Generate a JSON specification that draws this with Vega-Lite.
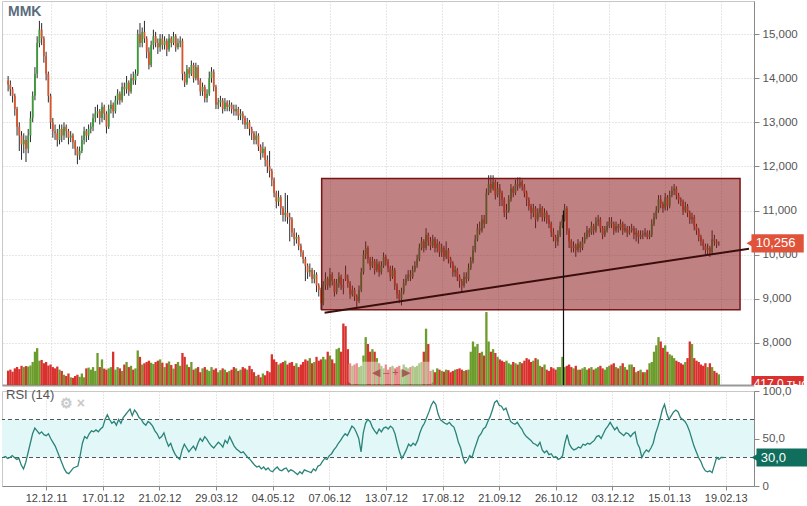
{
"$schema":"https://vega.github.io/schema/vega-lite/v6.json",
"background":"white",
"padding":0,
"spacing":6,
"bounds":"flush",
"config":{"view":{"stroke":"#c8c8c8"},"font":"Liberation Sans","axis":{"labelFont":"Liberation Sans"},"title":{"font":"Liberation Sans"}},
"datasets":{"k":[
{"i":1,"o":13950,"h":14050,"l":13700,"c":13850,"v":560,"r":30},
{"i":2,"o":13850,"h":13950,"l":13600,"c":13750,"v":600,"r":31},
{"i":3,"o":13750,"h":13800,"l":13450,"c":13600,"v":520,"r":29},
{"i":4,"o":13600,"h":13650,"l":13150,"c":13300,"v":650,"r":30},
{"i":5,"o":13300,"h":13350,"l":12700,"c":12900,"v":700,"r":32},
{"i":6,"o":12900,"h":13000,"l":12350,"c":12700,"v":620,"r":30},
{"i":7,"o":12700,"h":12800,"l":12150,"c":12500,"v":750,"r":28},
{"i":8,"o":12500,"h":12750,"l":12300,"c":12600,"v":700,"r":29},
{"i":9,"o":12600,"h":12700,"l":12100,"c":12400,"v":740,"r":22},
{"i":10,"o":12400,"h":12850,"l":12300,"c":12700,"v":720,"r":18},
{"i":11,"o":12700,"h":13250,"l":12550,"c":13100,"v":760,"r":25},
{"i":12,"o":13100,"h":13700,"l":13000,"c":13600,"v":900,"r":35},
{"i":13,"o":13600,"h":14250,"l":13500,"c":14100,"v":1300,"r":45},
{"i":14,"o":14100,"h":14950,"l":14000,"c":14800,"v":1440,"r":55},
{"i":15,"o":14800,"h":15300,"l":14700,"c":15100,"v":950,"r":61},
{"i":16,"o":15100,"h":15250,"l":14750,"c":14900,"v":980,"r":58},
{"i":17,"o":14900,"h":14950,"l":14350,"c":14500,"v":850,"r":55},
{"i":18,"o":14500,"h":14600,"l":13950,"c":14100,"v":900,"r":57},
{"i":19,"o":14100,"h":14150,"l":13450,"c":13600,"v":760,"r":54},
{"i":20,"o":13600,"h":13650,"l":12850,"c":13000,"v":800,"r":53},
{"i":21,"o":13000,"h":13100,"l":12650,"c":12800,"v":700,"r":55},
{"i":22,"o":12800,"h":12950,"l":12600,"c":12750,"v":650,"r":50},
{"i":23,"o":12750,"h":12850,"l":12450,"c":12600,"v":720,"r":46},
{"i":24,"o":12600,"h":12950,"l":12500,"c":12850,"v":600,"r":42},
{"i":25,"o":12850,"h":12950,"l":12550,"c":12700,"v":550,"r":36},
{"i":26,"o":12700,"h":13000,"l":12600,"c":12900,"v":400,"r":30},
{"i":27,"o":12900,"h":12950,"l":12650,"c":12800,"v":350,"r":24},
{"i":28,"o":12800,"h":12850,"l":12500,"c":12650,"v":450,"r":18},
{"i":29,"o":12650,"h":12800,"l":12550,"c":12700,"v":300,"r":14},
{"i":30,"o":12700,"h":12750,"l":12400,"c":12550,"v":280,"r":13},
{"i":31,"o":12550,"h":12600,"l":12250,"c":12400,"v":350,"r":16},
{"i":32,"o":12400,"h":12450,"l":12050,"c":12250,"v":400,"r":19},
{"i":33,"o":12250,"h":12450,"l":12150,"c":12350,"v":320,"r":20},
{"i":34,"o":12350,"h":12700,"l":12300,"c":12600,"v":450,"r":21},
{"i":35,"o":12600,"h":12900,"l":12500,"c":12800,"v":300,"r":32},
{"i":36,"o":12800,"h":12850,"l":12550,"c":12700,"v":650,"r":45},
{"i":37,"o":12700,"h":12950,"l":12600,"c":12850,"v":680,"r":52},
{"i":38,"o":12850,"h":13000,"l":12750,"c":12900,"v":600,"r":50},
{"i":39,"o":12900,"h":13200,"l":12800,"c":13100,"v":700,"r":55},
{"i":40,"o":13100,"h":13350,"l":13000,"c":13200,"v":550,"r":58},
{"i":41,"o":13200,"h":13400,"l":13100,"c":13250,"v":1250,"r":57},
{"i":42,"o":13250,"h":13300,"l":12950,"c":13100,"v":700,"r":59},
{"i":43,"o":13100,"h":13450,"l":13000,"c":13350,"v":1000,"r":57},
{"i":44,"o":13350,"h":13400,"l":13050,"c":13200,"v":640,"r":60},
{"i":45,"o":13200,"h":13250,"l":12750,"c":12900,"v":600,"r":62},
{"i":46,"o":12900,"h":13400,"l":12850,"c":13300,"v":650,"r":70},
{"i":47,"o":13300,"h":13500,"l":13200,"c":13400,"v":700,"r":75},
{"i":48,"o":13400,"h":13450,"l":13100,"c":13250,"v":1300,"r":70},
{"i":49,"o":13250,"h":13600,"l":13200,"c":13500,"v":600,"r":66},
{"i":50,"o":13500,"h":13750,"l":13400,"c":13650,"v":700,"r":68},
{"i":51,"o":13650,"h":13700,"l":13400,"c":13500,"v":650,"r":64},
{"i":52,"o":13500,"h":13900,"l":13450,"c":13800,"v":550,"r":70},
{"i":53,"o":13800,"h":13900,"l":13600,"c":13750,"v":800,"r":66},
{"i":54,"o":13750,"h":14050,"l":13650,"c":13900,"v":900,"r":72},
{"i":55,"o":13900,"h":13950,"l":13600,"c":13700,"v":700,"r":75},
{"i":56,"o":13700,"h":14100,"l":13650,"c":14000,"v":750,"r":78},
{"i":57,"o":14000,"h":14150,"l":13850,"c":13950,"v":600,"r":81},
{"i":58,"o":13950,"h":14200,"l":13850,"c":14100,"v":650,"r":74},
{"i":59,"o":14100,"h":15100,"l":14050,"c":15000,"v":1350,"r":80},
{"i":60,"o":15000,"h":15250,"l":14700,"c":14800,"v":1100,"r":77},
{"i":61,"o":14800,"h":15150,"l":14700,"c":15050,"v":800,"r":72},
{"i":62,"o":15050,"h":15300,"l":14800,"c":14900,"v":850,"r":70},
{"i":63,"o":14900,"h":14950,"l":14450,"c":14600,"v":900,"r":66},
{"i":64,"o":14600,"h":14700,"l":14200,"c":14300,"v":950,"r":64},
{"i":65,"o":14300,"h":14850,"l":14250,"c":14750,"v":870,"r":68},
{"i":66,"o":14750,"h":15100,"l":14650,"c":14950,"v":820,"r":66},
{"i":67,"o":14950,"h":15050,"l":14700,"c":14800,"v":900,"r":63},
{"i":68,"o":14800,"h":14900,"l":14550,"c":14700,"v":950,"r":58},
{"i":69,"o":14700,"h":15000,"l":14600,"c":14900,"v":1000,"r":55},
{"i":70,"o":14900,"h":15000,"l":14650,"c":14750,"v":870,"r":50},
{"i":71,"o":14750,"h":14950,"l":14650,"c":14850,"v":700,"r":52},
{"i":72,"o":14850,"h":14900,"l":14500,"c":14650,"v":850,"r":56},
{"i":73,"o":14650,"h":15000,"l":14600,"c":14900,"v":920,"r":48},
{"i":74,"o":14900,"h":14950,"l":14700,"c":14800,"v":780,"r":42},
{"i":75,"o":14800,"h":15050,"l":14750,"c":14950,"v":640,"r":45},
{"i":76,"o":14950,"h":15000,"l":14600,"c":14700,"v":820,"r":38},
{"i":77,"o":14700,"h":14900,"l":14650,"c":14800,"v":900,"r":33},
{"i":78,"o":14800,"h":14950,"l":14700,"c":14850,"v":750,"r":30},
{"i":79,"o":14850,"h":14900,"l":13950,"c":14100,"v":1250,"r":28},
{"i":80,"o":14100,"h":14150,"l":13800,"c":13900,"v":1100,"r":38},
{"i":81,"o":13900,"h":14300,"l":13850,"c":14200,"v":800,"r":44},
{"i":82,"o":14200,"h":14250,"l":14000,"c":14100,"v":700,"r":40},
{"i":83,"o":14100,"h":14400,"l":14050,"c":14300,"v":900,"r":36},
{"i":84,"o":14300,"h":14350,"l":13900,"c":14000,"v":600,"r":39},
{"i":85,"o":14000,"h":14350,"l":13950,"c":14250,"v":650,"r":42},
{"i":86,"o":14250,"h":14300,"l":13850,"c":13950,"v":700,"r":38},
{"i":87,"o":13950,"h":14000,"l":13600,"c":13700,"v":500,"r":45},
{"i":88,"o":13700,"h":13900,"l":13600,"c":13800,"v":650,"r":50},
{"i":89,"o":13800,"h":13850,"l":13450,"c":13550,"v":700,"r":47},
{"i":90,"o":13550,"h":13750,"l":13450,"c":13650,"v":600,"r":52},
{"i":91,"o":13650,"h":14150,"l":13600,"c":14000,"v":550,"r":49},
{"i":92,"o":14000,"h":14250,"l":13900,"c":14150,"v":700,"r":45},
{"i":93,"o":14150,"h":14200,"l":13700,"c":13800,"v":600,"r":42},
{"i":94,"o":13800,"h":13850,"l":13300,"c":13400,"v":650,"r":40},
{"i":95,"o":13400,"h":13550,"l":13300,"c":13450,"v":500,"r":43},
{"i":96,"o":13450,"h":13600,"l":13350,"c":13500,"v":580,"r":46},
{"i":97,"o":13500,"h":13550,"l":13200,"c":13300,"v":650,"r":44},
{"i":98,"o":13300,"h":13550,"l":13250,"c":13450,"v":600,"r":41},
{"i":99,"o":13450,"h":13500,"l":13250,"c":13350,"v":500,"r":48},
{"i":100,"o":13350,"h":13500,"l":13250,"c":13400,"v":550,"r":45},
{"i":101,"o":13400,"h":13450,"l":13200,"c":13300,"v":600,"r":52},
{"i":102,"o":13300,"h":13400,"l":13150,"c":13250,"v":700,"r":47},
{"i":103,"o":13250,"h":13400,"l":13150,"c":13300,"v":650,"r":42},
{"i":104,"o":13300,"h":13350,"l":13050,"c":13150,"v":550,"r":39},
{"i":105,"o":13150,"h":13300,"l":13050,"c":13200,"v":600,"r":37},
{"i":106,"o":13200,"h":13250,"l":12950,"c":13100,"v":700,"r":35},
{"i":107,"o":13100,"h":13150,"l":12850,"c":12950,"v":650,"r":36},
{"i":108,"o":12950,"h":13100,"l":12850,"c":13000,"v":600,"r":33},
{"i":109,"o":13000,"h":13050,"l":12700,"c":12850,"v":750,"r":30},
{"i":110,"o":12850,"h":12900,"l":12600,"c":12750,"v":620,"r":28},
{"i":111,"o":12750,"h":12800,"l":12500,"c":12600,"v":500,"r":25},
{"i":112,"o":12600,"h":12800,"l":12500,"c":12700,"v":350,"r":22},
{"i":113,"o":12700,"h":12750,"l":12350,"c":12450,"v":400,"r":20},
{"i":114,"o":12450,"h":12500,"l":12150,"c":12300,"v":300,"r":21},
{"i":115,"o":12300,"h":12550,"l":12200,"c":12400,"v":450,"r":18},
{"i":116,"o":12400,"h":12450,"l":12000,"c":12150,"v":380,"r":20},
{"i":117,"o":12150,"h":12250,"l":11850,"c":12000,"v":550,"r":17},
{"i":118,"o":12000,"h":12350,"l":11750,"c":11900,"v":500,"r":19},
{"i":119,"o":11900,"h":11950,"l":11550,"c":11700,"v":1200,"r":16},
{"i":120,"o":11700,"h":11750,"l":11300,"c":11400,"v":1000,"r":15},
{"i":121,"o":11400,"h":11450,"l":11050,"c":11200,"v":900,"r":18},
{"i":122,"o":11200,"h":11450,"l":11100,"c":11300,"v":800,"r":20},
{"i":123,"o":11300,"h":11350,"l":10900,"c":11050,"v":850,"r":17},
{"i":124,"o":11050,"h":11100,"l":10750,"c":10900,"v":900,"r":16},
{"i":125,"o":10900,"h":11400,"l":10750,"c":10950,"v":950,"r":18},
{"i":126,"o":10950,"h":11350,"l":10700,"c":10850,"v":800,"r":19},
{"i":127,"o":10850,"h":10950,"l":10300,"c":10800,"v":870,"r":15},
{"i":128,"o":10800,"h":10850,"l":10400,"c":10500,"v":900,"r":17},
{"i":129,"o":10500,"h":10600,"l":10200,"c":10350,"v":750,"r":16},
{"i":130,"o":10350,"h":10500,"l":10250,"c":10400,"v":850,"r":14},
{"i":131,"o":10400,"h":10450,"l":10100,"c":10200,"v":700,"r":12},
{"i":132,"o":10200,"h":10250,"l":9950,"c":10050,"v":800,"r":15},
{"i":133,"o":10050,"h":10100,"l":9800,"c":9900,"v":900,"r":13},
{"i":134,"o":9900,"h":9950,"l":9400,"c":9750,"v":1000,"r":17},
{"i":135,"o":9750,"h":9800,"l":9450,"c":9600,"v":950,"r":16},
{"i":136,"o":9600,"h":9800,"l":9500,"c":9650,"v":1050,"r":15},
{"i":137,"o":9650,"h":9700,"l":9350,"c":9450,"v":850,"r":14},
{"i":138,"o":9450,"h":9650,"l":9350,"c":9550,"v":900,"r":18},
{"i":139,"o":9550,"h":9600,"l":9150,"c":9300,"v":1100,"r":16},
{"i":140,"o":9300,"h":9350,"l":9050,"c":9200,"v":950,"r":21},
{"i":141,"o":9200,"h":9250,"l":8750,"c":8900,"v":1000,"r":22},
{"i":142,"o":8900,"h":9400,"l":8850,"c":9300,"v":1100,"r":26},
{"i":143,"o":9300,"h":9600,"l":9200,"c":9450,"v":1000,"r":29},
{"i":144,"o":9450,"h":9500,"l":9200,"c":9300,"v":1300,"r":28},
{"i":145,"o":9300,"h":9700,"l":9250,"c":9550,"v":1150,"r":32},
{"i":146,"o":9550,"h":9600,"l":9300,"c":9400,"v":1000,"r":34},
{"i":147,"o":9400,"h":9450,"l":9050,"c":9150,"v":850,"r":38},
{"i":148,"o":9150,"h":9450,"l":9100,"c":9350,"v":1400,"r":41},
{"i":149,"o":9350,"h":9600,"l":9250,"c":9500,"v":1450,"r":45},
{"i":150,"o":9500,"h":9550,"l":9200,"c":9300,"v":1300,"r":48},
{"i":151,"o":9300,"h":9450,"l":9100,"c":9250,"v":2400,"r":52},
{"i":152,"o":9550,"h":9750,"l":9400,"c":9450,"v":2300,"r":55},
{"i":153,"o":9450,"h":9550,"l":9250,"c":9350,"v":1400,"r":53},
{"i":154,"o":9350,"h":9400,"l":9000,"c":9100,"v":850,"r":58},
{"i":155,"o":9100,"h":9300,"l":9050,"c":9200,"v":750,"r":63},
{"i":156,"o":9200,"h":9250,"l":8950,"c":9050,"v":800,"r":61},
{"i":157,"o":9050,"h":9100,"l":8800,"c":8950,"v":850,"r":56},
{"i":158,"o":8950,"h":9300,"l":8900,"c":9200,"v":700,"r":50},
{"i":159,"o":9200,"h":9700,"l":9150,"c":9600,"v":750,"r":36},
{"i":160,"o":9600,"h":10100,"l":9550,"c":10000,"v":1150,"r":56},
{"i":161,"o":10000,"h":10300,"l":9900,"c":10150,"v":1870,"r":66},
{"i":162,"o":10150,"h":10200,"l":9800,"c":9900,"v":1600,"r":70},
{"i":163,"o":9900,"h":9950,"l":9650,"c":9750,"v":1300,"r":68},
{"i":164,"o":9750,"h":9950,"l":9700,"c":9850,"v":1400,"r":62},
{"i":165,"o":9850,"h":9900,"l":9550,"c":9650,"v":1300,"r":58},
{"i":166,"o":9650,"h":9900,"l":9600,"c":9800,"v":1050,"r":55},
{"i":167,"o":9800,"h":9850,"l":9500,"c":9600,"v":850,"r":60},
{"i":168,"o":9600,"h":9850,"l":9550,"c":9750,"v":750,"r":57},
{"i":169,"o":9750,"h":10050,"l":9700,"c":9950,"v":650,"r":61},
{"i":170,"o":9950,"h":10000,"l":9750,"c":9850,"v":800,"r":62},
{"i":171,"o":9850,"h":9900,"l":9600,"c":9700,"v":600,"r":60},
{"i":172,"o":9700,"h":9750,"l":9400,"c":9500,"v":700,"r":63},
{"i":173,"o":9500,"h":9750,"l":9450,"c":9650,"v":750,"r":61},
{"i":174,"o":9650,"h":9700,"l":9200,"c":9300,"v":650,"r":55},
{"i":175,"o":9300,"h":9350,"l":9000,"c":9100,"v":700,"r":45},
{"i":176,"o":9100,"h":9200,"l":8900,"c":9000,"v":750,"r":36},
{"i":177,"o":9000,"h":9250,"l":8850,"c":9150,"v":600,"r":29},
{"i":178,"o":9150,"h":9450,"l":9100,"c":9350,"v":800,"r":33},
{"i":179,"o":9350,"h":9550,"l":9300,"c":9450,"v":700,"r":38},
{"i":180,"o":9450,"h":9650,"l":9400,"c":9550,"v":650,"r":44},
{"i":181,"o":9550,"h":9650,"l":9400,"c":9500,"v":700,"r":42},
{"i":182,"o":9500,"h":9750,"l":9450,"c":9650,"v":750,"r":45},
{"i":183,"o":9650,"h":9850,"l":9600,"c":9750,"v":700,"r":43},
{"i":184,"o":9750,"h":10000,"l":9700,"c":9900,"v":750,"r":48},
{"i":185,"o":9900,"h":10250,"l":9850,"c":10150,"v":850,"r":56},
{"i":186,"o":10150,"h":10400,"l":10100,"c":10300,"v":900,"r":62},
{"i":187,"o":10300,"h":10350,"l":10050,"c":10150,"v":1300,"r":66},
{"i":188,"o":10150,"h":10600,"l":10100,"c":10450,"v":2200,"r":72},
{"i":189,"o":10450,"h":10500,"l":10200,"c":10300,"v":1600,"r":78},
{"i":190,"o":10300,"h":10400,"l":10100,"c":10200,"v":550,"r":85},
{"i":191,"o":10200,"h":10450,"l":10150,"c":10350,"v":600,"r":89},
{"i":192,"o":10350,"h":10400,"l":10050,"c":10150,"v":500,"r":86},
{"i":193,"o":10150,"h":10350,"l":10050,"c":10250,"v":650,"r":76},
{"i":194,"o":10250,"h":10300,"l":9950,"c":10050,"v":600,"r":70},
{"i":195,"o":10050,"h":10250,"l":9950,"c":10150,"v":550,"r":68},
{"i":196,"o":10150,"h":10200,"l":9850,"c":9950,"v":520,"r":66},
{"i":197,"o":9950,"h":10300,"l":9900,"c":10100,"v":600,"r":65},
{"i":198,"o":10100,"h":10150,"l":9800,"c":9900,"v":580,"r":67},
{"i":199,"o":9900,"h":9950,"l":9700,"c":9800,"v":500,"r":64},
{"i":200,"o":9800,"h":9850,"l":9500,"c":9600,"v":550,"r":62},
{"i":201,"o":9600,"h":9750,"l":9500,"c":9650,"v":600,"r":55},
{"i":202,"o":9650,"h":9700,"l":9400,"c":9500,"v":620,"r":46},
{"i":203,"o":9500,"h":9550,"l":9250,"c":9400,"v":650,"r":40},
{"i":204,"o":9400,"h":9450,"l":9150,"c":9300,"v":600,"r":30},
{"i":205,"o":9300,"h":9600,"l":9250,"c":9500,"v":550,"r":24},
{"i":206,"o":9500,"h":9600,"l":9350,"c":9450,"v":580,"r":27},
{"i":207,"o":9450,"h":9800,"l":9400,"c":9700,"v":600,"r":32},
{"i":208,"o":9700,"h":9950,"l":9650,"c":9850,"v":1300,"r":30},
{"i":209,"o":9850,"h":10200,"l":9800,"c":10100,"v":1700,"r":38},
{"i":210,"o":10100,"h":10450,"l":10050,"c":10350,"v":1500,"r":45},
{"i":211,"o":10350,"h":10700,"l":10300,"c":10600,"v":1600,"r":52},
{"i":212,"o":10600,"h":10750,"l":10450,"c":10550,"v":1250,"r":55},
{"i":213,"o":10550,"h":10900,"l":10500,"c":10800,"v":1300,"r":60},
{"i":214,"o":10800,"h":10900,"l":10600,"c":10700,"v":1150,"r":62},
{"i":215,"o":10700,"h":11500,"l":10700,"c":11400,"v":2850,"r":68},
{"i":216,"o":11400,"h":11800,"l":11350,"c":11600,"v":1700,"r":73},
{"i":217,"o":11600,"h":11800,"l":11400,"c":11500,"v":1300,"r":80},
{"i":218,"o":11500,"h":11800,"l":11450,"c":11650,"v":1400,"r":88},
{"i":219,"o":11650,"h":11700,"l":11250,"c":11350,"v":1250,"r":90},
{"i":220,"o":11350,"h":11650,"l":11300,"c":11500,"v":1100,"r":85},
{"i":221,"o":11500,"h":11600,"l":11100,"c":11400,"v":1000,"r":84},
{"i":222,"o":11400,"h":11450,"l":11100,"c":11250,"v":950,"r":80},
{"i":223,"o":11250,"h":11300,"l":10850,"c":10950,"v":900,"r":82},
{"i":224,"o":10950,"h":11150,"l":10800,"c":11000,"v":950,"r":75},
{"i":225,"o":11000,"h":11350,"l":10950,"c":11250,"v":850,"r":68},
{"i":226,"o":11250,"h":11600,"l":11200,"c":11500,"v":800,"r":66},
{"i":227,"o":11500,"h":11550,"l":11300,"c":11400,"v":900,"r":65},
{"i":228,"o":11400,"h":11700,"l":11350,"c":11600,"v":850,"r":67},
{"i":229,"o":11600,"h":11750,"l":11450,"c":11550,"v":800,"r":63},
{"i":230,"o":11550,"h":11750,"l":11500,"c":11650,"v":900,"r":60},
{"i":231,"o":11650,"h":11700,"l":11450,"c":11550,"v":850,"r":55},
{"i":232,"o":11550,"h":11600,"l":11300,"c":11400,"v":950,"r":52},
{"i":233,"o":11400,"h":11450,"l":11100,"c":11250,"v":1050,"r":50},
{"i":234,"o":11250,"h":11300,"l":11000,"c":11100,"v":1000,"r":48},
{"i":235,"o":11100,"h":11150,"l":10800,"c":10950,"v":900,"r":45},
{"i":236,"o":10950,"h":11150,"l":10850,"c":11050,"v":950,"r":44},
{"i":237,"o":11050,"h":11100,"l":10600,"c":10800,"v":1050,"r":42},
{"i":238,"o":10800,"h":11050,"l":10750,"c":10950,"v":1000,"r":46},
{"i":239,"o":10950,"h":11150,"l":10850,"c":11050,"v":750,"r":38},
{"i":240,"o":11050,"h":11100,"l":10750,"c":10850,"v":700,"r":35},
{"i":241,"o":10850,"h":11050,"l":10750,"c":10950,"v":800,"r":37},
{"i":242,"o":10950,"h":11000,"l":10700,"c":10800,"v":600,"r":33},
{"i":243,"o":10800,"h":10900,"l":10600,"c":10700,"v":550,"r":34},
{"i":244,"o":10700,"h":10750,"l":10400,"c":10500,"v":700,"r":30},
{"i":245,"o":10500,"h":10600,"l":10300,"c":10400,"v":650,"r":31},
{"i":246,"o":10400,"h":10450,"l":10150,"c":10300,"v":600,"r":28},
{"i":247,"o":10300,"h":10550,"l":10200,"c":10450,"v":700,"r":29},
{"i":248,"o":10450,"h":10750,"l":10400,"c":10650,"v":700,"r":32},
{"i":249,"o":10650,"h":10900,"l":10600,"c":10800,"v":1100,"r":45},
{"i":250,"o":10800,"h":11150,"l":10750,"c":11050,"v":700,"r":54},
{"i":251,"o":11050,"h":11100,"l":10450,"c":10550,"v":750,"r":44},
{"i":252,"o":10550,"h":10600,"l":10150,"c":10300,"v":800,"r":40},
{"i":253,"o":10300,"h":10350,"l":10050,"c":10150,"v":700,"r":38},
{"i":254,"o":10150,"h":10300,"l":10050,"c":10200,"v":650,"r":39},
{"i":255,"o":10200,"h":10250,"l":9950,"c":10100,"v":750,"r":41},
{"i":256,"o":10100,"h":10350,"l":10050,"c":10250,"v":600,"r":40},
{"i":257,"o":10250,"h":10300,"l":10050,"c":10150,"v":600,"r":44},
{"i":258,"o":10150,"h":10400,"l":10100,"c":10300,"v":650,"r":43},
{"i":259,"o":10300,"h":10500,"l":10250,"c":10400,"v":700,"r":45},
{"i":260,"o":10400,"h":10650,"l":10350,"c":10550,"v":600,"r":44},
{"i":261,"o":10550,"h":10600,"l":10400,"c":10500,"v":650,"r":46},
{"i":262,"o":10500,"h":10750,"l":10450,"c":10650,"v":700,"r":48},
{"i":263,"o":10650,"h":10700,"l":10450,"c":10550,"v":600,"r":52},
{"i":264,"o":10550,"h":10850,"l":10500,"c":10750,"v":650,"r":53},
{"i":265,"o":10750,"h":10900,"l":10650,"c":10800,"v":700,"r":50},
{"i":266,"o":10800,"h":10850,"l":10500,"c":10600,"v":750,"r":55},
{"i":267,"o":10600,"h":10650,"l":10350,"c":10450,"v":650,"r":60},
{"i":268,"o":10450,"h":10650,"l":10400,"c":10550,"v":600,"r":63},
{"i":269,"o":10550,"h":10750,"l":10500,"c":10650,"v":700,"r":67},
{"i":270,"o":10650,"h":10850,"l":10600,"c":10750,"v":750,"r":63},
{"i":271,"o":10750,"h":10850,"l":10600,"c":10700,"v":800,"r":59},
{"i":272,"o":10700,"h":10750,"l":10450,"c":10550,"v":850,"r":62},
{"i":273,"o":10550,"h":10750,"l":10500,"c":10650,"v":700,"r":57},
{"i":274,"o":10650,"h":10700,"l":10500,"c":10600,"v":650,"r":55},
{"i":275,"o":10600,"h":10800,"l":10550,"c":10700,"v":750,"r":53},
{"i":276,"o":10700,"h":10750,"l":10450,"c":10550,"v":850,"r":56},
{"i":277,"o":10550,"h":10700,"l":10500,"c":10600,"v":700,"r":55},
{"i":278,"o":10600,"h":10650,"l":10400,"c":10500,"v":600,"r":52},
{"i":279,"o":10500,"h":10650,"l":10450,"c":10550,"v":800,"r":55},
{"i":280,"o":10550,"h":10700,"l":10500,"c":10600,"v":800,"r":57},
{"i":281,"o":10600,"h":10650,"l":10350,"c":10450,"v":700,"r":45},
{"i":282,"o":10450,"h":10600,"l":10300,"c":10500,"v":500,"r":40},
{"i":283,"o":10500,"h":10550,"l":10250,"c":10400,"v":550,"r":30},
{"i":284,"o":10400,"h":10550,"l":10350,"c":10450,"v":600,"r":35},
{"i":285,"o":10470,"h":10550,"l":10350,"c":10450,"v":500,"r":38},
{"i":286,"o":10450,"h":10600,"l":10400,"c":10500,"v":500,"r":36},
{"i":287,"o":10500,"h":10550,"l":10350,"c":10400,"v":600,"r":40},
{"i":288,"o":10400,"h":10550,"l":10350,"c":10450,"v":850,"r":45},
{"i":289,"o":10450,"h":10800,"l":10400,"c":10700,"v":900,"r":55},
{"i":290,"o":10700,"h":10950,"l":10650,"c":10850,"v":1300,"r":62},
{"i":291,"o":10850,"h":11100,"l":10800,"c":11000,"v":1550,"r":70},
{"i":292,"o":11000,"h":11350,"l":10950,"c":11250,"v":1870,"r":80},
{"i":293,"o":11250,"h":11350,"l":11050,"c":11150,"v":1700,"r":86},
{"i":294,"o":11150,"h":11200,"l":10950,"c":11050,"v":1450,"r":76},
{"i":295,"o":11050,"h":11400,"l":11000,"c":11300,"v":1550,"r":70},
{"i":296,"o":11300,"h":11350,"l":11000,"c":11100,"v":1300,"r":74},
{"i":297,"o":11100,"h":11450,"l":11050,"c":11350,"v":1200,"r":78},
{"i":298,"o":11350,"h":11550,"l":11300,"c":11450,"v":1150,"r":80},
{"i":299,"o":11450,"h":11600,"l":11350,"c":11500,"v":1050,"r":78},
{"i":300,"o":11500,"h":11550,"l":11250,"c":11350,"v":950,"r":72},
{"i":301,"o":11350,"h":11400,"l":11150,"c":11250,"v":900,"r":70},
{"i":302,"o":11250,"h":11300,"l":11100,"c":11200,"v":850,"r":68},
{"i":303,"o":11200,"h":11250,"l":10900,"c":11000,"v":800,"r":64},
{"i":304,"o":11000,"h":11200,"l":10950,"c":11100,"v":900,"r":58},
{"i":305,"o":11100,"h":11150,"l":10850,"c":10950,"v":1050,"r":50},
{"i":306,"o":10950,"h":11000,"l":10700,"c":10800,"v":1700,"r":42},
{"i":307,"o":10800,"h":10950,"l":10700,"c":10850,"v":1600,"r":36},
{"i":308,"o":10850,"h":10900,"l":10550,"c":10650,"v":1050,"r":30},
{"i":309,"o":10650,"h":10700,"l":10450,"c":10550,"v":950,"r":26},
{"i":310,"o":10550,"h":10600,"l":10300,"c":10400,"v":900,"r":20},
{"i":311,"o":10400,"h":10450,"l":10200,"c":10300,"v":800,"r":16},
{"i":312,"o":10300,"h":10350,"l":10100,"c":10200,"v":750,"r":15},
{"i":313,"o":10200,"h":10250,"l":10000,"c":10100,"v":850,"r":16},
{"i":314,"o":10100,"h":10250,"l":10000,"c":10150,"v":700,"r":14},
{"i":315,"o":10150,"h":10200,"l":9950,"c":10050,"v":850,"r":22},
{"i":316,"o":10050,"h":10550,"l":10000,"c":10350,"v":700,"r":30},
{"i":317,"o":10350,"h":10450,"l":10200,"c":10300,"v":550,"r":28},
{"i":318,"o":10300,"h":10350,"l":10150,"c":10250,"v":480,"r":30},
{"i":319,"o":10250,"h":10300,"l":10200,"c":10256,"v":417,"r":30}
]},
"vconcat":[
{
"width":752,"height":384,
"title":{"text":"MMK","anchor":"start","frame":"group","offset":-18,"dx":6,"fontSize":14,"fontWeight":"bold","color":"#5b6b7b"},
"layer":[
{"data":{"name":"k"},"mark":{"type":"bar","size":2.3},
"encoding":{
"x":{"field":"i","type":"quantitative","scale":{"domain":[0.5,332.5],"nice":false,"zero":false},
"axis":{"values":[20,45,70,95,120,145,170,195,220,245,270,295,320],"labels":false,"ticks":false,"domain":true,"domainColor":"#999","domainWidth":2,"grid":true,"gridColor":"#cfcfcf","gridDash":[1,2],"title":null}},
"y":{"field":"v","type":"quantitative","scale":{"domain":[0,15000],"nice":false},"axis":null},
"color":{"condition":{"test":"datum.c>=datum.o","value":"#6b9c2c"},"value":"#d8312e"}}},
{"layer":[
{"data":{"name":"k"},"mark":{"type":"rule","color":"#2b2b2b","strokeWidth":1},
"encoding":{"x":{"field":"i","type":"quantitative"},
"y":{"field":"l","type":"quantitative","scale":{"domain":[7045,15750],"nice":false,"zero":false},
"axis":{"orient":"right","values":[8000,9000,10000,11000,12000,13000,14000,15000],"labelExpr":"format(datum.value, ',')","grid":true,"gridColor":"#cfcfcf","gridDash":[1,2],"tickSize":5,"tickColor":"#888","domainColor":"#888","labelColor":"#555","labelFontSize":11.5,"labelPadding":3,"title":null}},
"y2":{"field":"h"}}},
{"data":{"name":"k"},"mark":{"type":"bar","size":1.8},
"encoding":{"x":{"field":"i","type":"quantitative"},"y":{"field":"o","type":"quantitative"},"y2":{"field":"c"},
"color":{"condition":{"test":"datum.c>=datum.o","value":"#3d9a3a"},"value":"#d9532c"}}},
{"data":{"values":[{}]},"mark":{"type":"rect","fill":"#8b1a1a","fillOpacity":0.55,"stroke":"#7a1515","strokeWidth":1.5},
"encoding":{"x":{"datum":141.3,"type":"quantitative"},"x2":{"datum":328.5},"y":{"datum":11727,"type":"quantitative"},"y2":{"datum":8750}}},
{"data":{"values":[{}]},"mark":{"type":"rule","color":"#3b0d0d","strokeWidth":2},
"encoding":{"x":{"datum":142.6,"type":"quantitative"},"x2":{"datum":332.5},"y":{"datum":8682,"type":"quantitative"},"y2":{"datum":10136}}},
{"data":{"values":[{}]},"mark":{"type":"rule","color":"#111","strokeWidth":1.2},
"encoding":{"x":{"datum":249.5,"type":"quantitative"},"y":{"datum":11000,"type":"quantitative"},"y2":{"datum":7045}}},
{"data":{"values":[{}]},"mark":{"type":"rect","fill":"white","fillOpacity":0.45,"cornerRadius":3},
"encoding":{"x":{"datum":153.3,"type":"quantitative"},"x2":{"datum":191.2},"y":{"datum":7570,"type":"quantitative"},"y2":{"datum":7070}}},
{"data":{"values":[{}]},"mark":{"type":"text","text":"◀    –    +    ▶","color":"#a85a5a","fontSize":11,"align":"center","baseline":"middle"},
"encoding":{"x":{"datum":172.3,"type":"quantitative"},"y":{"datum":7320,"type":"quantitative"}}},
{"data":{"values":[{}]},"mark":{"type":"rect","fill":"#e0533b"},
"encoding":{"x":{"datum":333.6,"type":"quantitative"},"x2":{"datum":357},"y":{"datum":10461,"type":"quantitative"},"y2":{"datum":10051}}},
{"data":{"values":[{}]},"mark":{"type":"point","shape":"triangle-left","filled":true,"color":"#e0533b","size":90,"opacity":1},
"encoding":{"x":{"datum":333.2,"type":"quantitative"},"y":{"datum":10256,"type":"quantitative"}}},
{"data":{"values":[{}]},"mark":{"type":"text","text":"10,256","color":"white","fontSize":13,"align":"left","baseline":"middle"},
"encoding":{"x":{"datum":335.5,"type":"quantitative"},"y":{"datum":10256,"type":"quantitative"}}},
{"data":{"values":[{}]},"mark":{"type":"rect","fill":"#d8312e"},
"encoding":{"x":{"datum":333.6,"type":"quantitative"},"x2":{"datum":357},"y":{"datum":7250,"type":"quantitative"},"y2":{"datum":7045}}},
{"data":{"values":[{}]},"mark":{"type":"text","text":"417,0 тыс","color":"white","fontSize":12,"align":"left","baseline":"alphabetic"},
"encoding":{"x":{"datum":334.6,"type":"quantitative"},"y":{"datum":6977,"type":"quantitative"}}}
]}
],
"resolve":{"scale":{"y":"independent"}}
},
{
"width":752,"height":95,
"title":{"text":"RSI (14)","anchor":"start","frame":"group","offset":-17,"dx":4,"fontSize":13,"fontWeight":"normal","color":"#555"},
"layer":[
{"data":{"values":[{}]},"mark":{"type":"rect","fill":"#e2f7f7"},
"encoding":{
"x":{"datum":0.5,"type":"quantitative","scale":{"domain":[0.5,332.5],"nice":false,"zero":false},
"axis":{"values":[20,45,70,95,120,145,170,195,220,245,270,295,320],"labelExpr":"['12.12.11','17.01.12','21.02.12','29.03.12','04.05.12','07.06.12','13.07.12','17.08.12','21.09.12','26.10.12','03.12.12','15.01.13','19.02.13'][round((datum.value-20)/25)]","grid":true,"gridColor":"#cfcfcf","gridDash":[1,2],"tickSize":4,"tickColor":"#888","domainColor":"#888","labelColor":"#444","labelFontSize":11,"labelPadding":2,"title":null}},
"x2":{"datum":332.5},
"y":{"datum":30,"type":"quantitative","scale":{"domain":[0,100],"nice":false},
"axis":{"orient":"right","values":[0,50,100],"labelExpr":"datum.value==0 ? '0' : replace(format(datum.value,'.1f'),'.',',')","grid":false,"tickSize":5,"tickColor":"#888","domainColor":"#888","labelColor":"#555","labelFontSize":11.5,"labelPadding":3,"title":null}},
"y2":{"datum":70}}},
{"data":{"values":[{}]},"mark":{"type":"rule","strokeDash":[4,3],"color":"#555"},"encoding":{"y":{"datum":70,"type":"quantitative"}}},
{"data":{"values":[{}]},"mark":{"type":"rule","strokeDash":[4,3],"color":"#555"},"encoding":{"y":{"datum":30,"type":"quantitative"}}},
{"data":{"name":"k"},"mark":{"type":"line","color":"#2a8378","strokeWidth":1.3},
"encoding":{"x":{"field":"i","type":"quantitative"},"y":{"field":"r","type":"quantitative"}}},
{"data":{"values":[{}]},"mark":{"type":"rect","fill":"#0f6e5c"},
"encoding":{"x":{"datum":333.6,"type":"quantitative"},"x2":{"datum":357},"y":{"datum":20.5,"type":"quantitative"},"y2":{"datum":39.5}}},
{"data":{"values":[{}]},"mark":{"type":"point","shape":"triangle-left","filled":true,"color":"#0f6e5c","size":90,"opacity":1},
"encoding":{"x":{"datum":333.2,"type":"quantitative"},"y":{"datum":30,"type":"quantitative"}}},
{"data":{"values":[{}]},"mark":{"type":"text","text":"30,0","color":"white","fontSize":13,"align":"left","baseline":"middle"},
"encoding":{"x":{"datum":335.5,"type":"quantitative"},"y":{"datum":30,"type":"quantitative"}}},
{"data":{"values":[{}]},"mark":{"type":"text","text":"⚙ ×","color":"#c9c9c9","fontSize":14,"fontWeight":"bold","align":"left","baseline":"middle"},
"encoding":{"x":{"datum":26,"type":"quantitative"},"y":{"datum":86,"type":"quantitative"}}}
]
}
]
}
